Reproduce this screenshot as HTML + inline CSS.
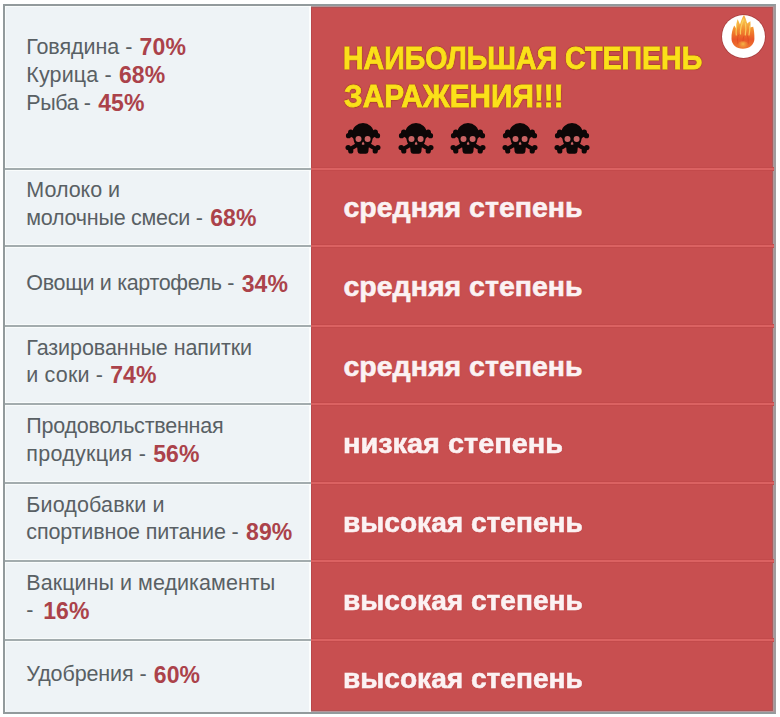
<!DOCTYPE html>
<html><head><meta charset="utf-8">
<style>
*{margin:0;padding:0;box-sizing:border-box}
html,body{width:780px;height:717px;background:#fff;overflow:hidden}
body{position:relative;font-family:"Liberation Sans",sans-serif}
.frame{position:absolute;left:3px;top:4px;width:773px;height:710px;border:2px solid #929a9c;border-right-color:#a09a9c;background:#eef3f6}
.lcol{position:absolute;left:5px;top:6px;width:304px;height:706px;border-left:1.5px solid #f9fcfc;border-top:1px solid #f9fcfc}
.red{position:absolute;left:311px;top:6px;width:463px;height:706px;background:#c84f50}
.gap{position:absolute;left:309px;top:6px;width:2px;height:706px;background:#fbfdfd}
.redl{position:absolute;left:311px;top:6px;width:1px;height:706px;background:#b9474a}
.redt{position:absolute;left:311px;top:6px;width:463px;height:1px;background:#b89598}
.redt2{position:absolute;left:311px;top:7px;width:462px;height:1px;background:#ad5355}
.redb{position:absolute;left:311px;top:711px;width:463px;height:1px;background:#b89598}
.redb2{position:absolute;left:311px;top:710px;width:462px;height:1px;background:#ad5355}
.redr{position:absolute;left:773px;top:6px;width:1px;height:706px;background:#b89598}
.redr2{position:absolute;left:772px;top:7px;width:1px;height:704px;background:#a85c5e}
.sep{position:absolute;left:5px;width:306px;height:2px;background:#a3acae;box-shadow:0 -1px 0 #f9fcfc,0 1px 0 #f9fcfc}
.rsep{position:absolute;left:311px;width:463px;height:2px;background:#db6262;box-shadow:0 -1px 0 #c34a4b,0 1px 0 #c34a4b}
.l{position:absolute;left:26.3px;font-size:21.5px;line-height:28px;height:28px;color:#596064;white-space:nowrap}
.p{position:absolute;letter-spacing:0.1px;font-size:23px;line-height:28px;height:28px;font-weight:bold;color:#ab424a;white-space:nowrap}
.r{position:absolute;left:343.5px;-webkit-text-stroke:0.6px #fcf2f3;text-shadow:0 0 1.2px rgba(150,45,45,.55);font-size:28.5px;line-height:40px;height:40px;font-weight:bold;color:#fcf2f3;white-space:nowrap;transform-origin:0 0}
.h{position:absolute;left:344px;-webkit-text-stroke:0.8px #fbe01a;text-shadow:0.8px 0 1px rgba(150,55,25,.8),-0.8px 0 1px rgba(150,55,25,.8),0 0.8px 1px rgba(150,55,25,.8),0 -0.8px 1px rgba(150,55,25,.8);font-size:31px;line-height:40px;height:40px;font-weight:bold;color:#fbe01a;white-space:nowrap;transform-origin:0 0}
.logo{position:absolute;left:722px;top:15px;width:43px;height:43px;border-radius:50%;background:#fff;box-shadow:0 0 0 0.8px rgba(130,40,40,.45)}
svg{position:absolute;overflow:visible}
</style></head><body>
<div class="frame"></div>
<div class="lcol"></div>
<div class="gap"></div>
<div class="red"></div>
<div class="redl"></div>
<div class="redt"></div>
<div class="redt2"></div>
<div class="redb"></div>
<div class="redb2"></div>
<div class="redr"></div>
<div class="redr2"></div>

<div class="sep" style="top:168px"></div><div class="rsep" style="top:168px"></div>
<div class="sep" style="top:245px"></div><div class="rsep" style="top:245px"></div>
<div class="sep" style="top:325px"></div><div class="rsep" style="top:325px"></div>
<div class="sep" style="top:403px"></div><div class="rsep" style="top:403px"></div>
<div class="sep" style="top:482px"></div><div class="rsep" style="top:482px"></div>
<div class="sep" style="top:560px"></div><div class="rsep" style="top:560px"></div>
<div class="sep" style="top:639px"></div><div class="rsep" style="top:639px"></div>
<div class="l" style="top:32.75px;letter-spacing:-0.049px">Говядина -</div>
<div class="p" style="top:33.23px;left:139.60px">70%</div>
<div class="l" style="top:60.75px;letter-spacing:0.136px">Курица -</div>
<div class="p" style="top:61.23px;left:118.90px">68%</div>
<div class="l" style="top:88.85px;letter-spacing:-0.409px">Рыба -</div>
<div class="p" style="top:89.33px;left:98.20px">45%</div>
<div class="l" style="top:176.35px;letter-spacing:-0.023px">Молоко и</div>
<div class="l" style="top:203.95px;letter-spacing:-0.248px">молочные смеси -</div>
<div class="p" style="top:204.43px;left:210.20px">68%</div>
<div class="l" style="top:269.15px;letter-spacing:-0.336px">Овощи и картофель -</div>
<div class="p" style="top:269.63px;left:241.70px">34%</div>
<div class="l" style="top:333.55px;letter-spacing:-0.065px">Газированные напитки</div>
<div class="l" style="top:360.95px;letter-spacing:0.168px">и соки -</div>
<div class="p" style="top:361.43px;left:110.20px">74%</div>
<div class="l" style="top:412.35px;letter-spacing:-0.222px">Продовольственная</div>
<div class="l" style="top:439.55px;letter-spacing:0.277px">продукция -</div>
<div class="p" style="top:440.03px;left:153.20px">56%</div>
<div class="l" style="top:490.55px;letter-spacing:0.137px">Биодобавки и</div>
<div class="l" style="top:517.55px;letter-spacing:-0.137px">спортивное питание -</div>
<div class="p" style="top:518.03px;left:246.00px">89%</div>
<div class="l" style="top:569.15px;letter-spacing:0.049px">Вакцины и медикаменты</div>
<div class="l" style="top:596.05px;letter-spacing:0.000px">-</div>
<div class="p" style="top:596.53px;left:43.20px">16%</div>
<div class="l" style="top:660.05px;letter-spacing:-0.111px">Удобрения -</div>
<div class="p" style="top:660.53px;left:153.80px">60%</div>
<div class="r" style="left:343.5px;top:187.02px;transform:scaleX(1.0)">средняя степень</div>
<div class="r" style="left:343.5px;top:265.92px;transform:scaleX(1.0)">средняя степень</div>
<div class="r" style="left:343.5px;top:345.52px;transform:scaleX(1.0)">средняя степень</div>
<div class="r" style="left:342.8px;top:423.32px;transform:scaleX(1.014)">низкая степень</div>
<div class="r" style="left:342.8px;top:501.72px;transform:scaleX(0.986)">высокая степень</div>
<div class="r" style="left:342.8px;top:579.72px;transform:scaleX(0.986)">высокая степень</div>
<div class="r" style="left:342.8px;top:657.62px;transform:scaleX(0.986)">высокая степень</div>
<div class="h" style="left:343.2px;top:39.06px;transform:scaleX(0.921)">НАИБОЛЬШАЯ СТЕПЕНЬ</div>
<div class="h" style="left:344px;top:77.26px;transform:scaleX(0.96)">ЗАРАЖЕНИЯ!!!</div>
<svg style="left:345px;top:122.7px" width="36" height="31" viewBox="0 0 36 31">
 <g stroke="#0d0707" stroke-width="4" stroke-linecap="round" fill="none">
  <line x1="4.8" y1="10.8" x2="31.2" y2="26.2"/>
  <line x1="31.2" y1="10.8" x2="4.8" y2="26.2"/>
 </g>
 <g fill="#0d0707">
  <circle cx="5.8" cy="9.2" r="2.7"/><circle cx="3.5" cy="12.7" r="2.6"/>
  <circle cx="30.2" cy="9.2" r="2.7"/><circle cx="32.5" cy="12.7" r="2.6"/>
  <circle cx="3.2" cy="24.6" r="2.7"/><circle cx="5.8" cy="28" r="2.6"/>
  <circle cx="32.8" cy="24.6" r="2.7"/><circle cx="30.2" cy="28" r="2.6"/>
  <ellipse cx="18" cy="10.4" rx="10.7" ry="10.4"/>
  <path d="M8.2 11 Q8 18.5 10.5 21.5 Q12 23 12.3 25 L12.6 28.6 Q13 30.8 15.2 30.8 L20.8 30.8 Q23 30.8 23.4 28.6 L23.7 25 Q24 23 25.5 21.5 Q28 18.5 27.8 11 Z"/>
 </g>
 <g fill="#c96464">
  <circle cx="13.5" cy="16" r="3"/>
  <circle cx="22.6" cy="16" r="3"/>
  <path d="M18.1 18.4 Q19.8 20.5 19.4 21.4 Q18.1 22 16.8 21.4 Q16.4 20.5 18.1 18.4 Z"/>
 </g>
</svg>
<svg style="left:397.5px;top:122.7px" width="36" height="31" viewBox="0 0 36 31">
 <g stroke="#0d0707" stroke-width="4" stroke-linecap="round" fill="none">
  <line x1="4.8" y1="10.8" x2="31.2" y2="26.2"/>
  <line x1="31.2" y1="10.8" x2="4.8" y2="26.2"/>
 </g>
 <g fill="#0d0707">
  <circle cx="5.8" cy="9.2" r="2.7"/><circle cx="3.5" cy="12.7" r="2.6"/>
  <circle cx="30.2" cy="9.2" r="2.7"/><circle cx="32.5" cy="12.7" r="2.6"/>
  <circle cx="3.2" cy="24.6" r="2.7"/><circle cx="5.8" cy="28" r="2.6"/>
  <circle cx="32.8" cy="24.6" r="2.7"/><circle cx="30.2" cy="28" r="2.6"/>
  <ellipse cx="18" cy="10.4" rx="10.7" ry="10.4"/>
  <path d="M8.2 11 Q8 18.5 10.5 21.5 Q12 23 12.3 25 L12.6 28.6 Q13 30.8 15.2 30.8 L20.8 30.8 Q23 30.8 23.4 28.6 L23.7 25 Q24 23 25.5 21.5 Q28 18.5 27.8 11 Z"/>
 </g>
 <g fill="#c96464">
  <circle cx="13.5" cy="16" r="3"/>
  <circle cx="22.6" cy="16" r="3"/>
  <path d="M18.1 18.4 Q19.8 20.5 19.4 21.4 Q18.1 22 16.8 21.4 Q16.4 20.5 18.1 18.4 Z"/>
 </g>
</svg>
<svg style="left:450px;top:122.7px" width="36" height="31" viewBox="0 0 36 31">
 <g stroke="#0d0707" stroke-width="4" stroke-linecap="round" fill="none">
  <line x1="4.8" y1="10.8" x2="31.2" y2="26.2"/>
  <line x1="31.2" y1="10.8" x2="4.8" y2="26.2"/>
 </g>
 <g fill="#0d0707">
  <circle cx="5.8" cy="9.2" r="2.7"/><circle cx="3.5" cy="12.7" r="2.6"/>
  <circle cx="30.2" cy="9.2" r="2.7"/><circle cx="32.5" cy="12.7" r="2.6"/>
  <circle cx="3.2" cy="24.6" r="2.7"/><circle cx="5.8" cy="28" r="2.6"/>
  <circle cx="32.8" cy="24.6" r="2.7"/><circle cx="30.2" cy="28" r="2.6"/>
  <ellipse cx="18" cy="10.4" rx="10.7" ry="10.4"/>
  <path d="M8.2 11 Q8 18.5 10.5 21.5 Q12 23 12.3 25 L12.6 28.6 Q13 30.8 15.2 30.8 L20.8 30.8 Q23 30.8 23.4 28.6 L23.7 25 Q24 23 25.5 21.5 Q28 18.5 27.8 11 Z"/>
 </g>
 <g fill="#c96464">
  <circle cx="13.5" cy="16" r="3"/>
  <circle cx="22.6" cy="16" r="3"/>
  <path d="M18.1 18.4 Q19.8 20.5 19.4 21.4 Q18.1 22 16.8 21.4 Q16.4 20.5 18.1 18.4 Z"/>
 </g>
</svg>
<svg style="left:502.2px;top:122.7px" width="36" height="31" viewBox="0 0 36 31">
 <g stroke="#0d0707" stroke-width="4" stroke-linecap="round" fill="none">
  <line x1="4.8" y1="10.8" x2="31.2" y2="26.2"/>
  <line x1="31.2" y1="10.8" x2="4.8" y2="26.2"/>
 </g>
 <g fill="#0d0707">
  <circle cx="5.8" cy="9.2" r="2.7"/><circle cx="3.5" cy="12.7" r="2.6"/>
  <circle cx="30.2" cy="9.2" r="2.7"/><circle cx="32.5" cy="12.7" r="2.6"/>
  <circle cx="3.2" cy="24.6" r="2.7"/><circle cx="5.8" cy="28" r="2.6"/>
  <circle cx="32.8" cy="24.6" r="2.7"/><circle cx="30.2" cy="28" r="2.6"/>
  <ellipse cx="18" cy="10.4" rx="10.7" ry="10.4"/>
  <path d="M8.2 11 Q8 18.5 10.5 21.5 Q12 23 12.3 25 L12.6 28.6 Q13 30.8 15.2 30.8 L20.8 30.8 Q23 30.8 23.4 28.6 L23.7 25 Q24 23 25.5 21.5 Q28 18.5 27.8 11 Z"/>
 </g>
 <g fill="#c96464">
  <circle cx="13.5" cy="16" r="3"/>
  <circle cx="22.6" cy="16" r="3"/>
  <path d="M18.1 18.4 Q19.8 20.5 19.4 21.4 Q18.1 22 16.8 21.4 Q16.4 20.5 18.1 18.4 Z"/>
 </g>
</svg>
<svg style="left:554.4px;top:122.7px" width="36" height="31" viewBox="0 0 36 31">
 <g stroke="#0d0707" stroke-width="4" stroke-linecap="round" fill="none">
  <line x1="4.8" y1="10.8" x2="31.2" y2="26.2"/>
  <line x1="31.2" y1="10.8" x2="4.8" y2="26.2"/>
 </g>
 <g fill="#0d0707">
  <circle cx="5.8" cy="9.2" r="2.7"/><circle cx="3.5" cy="12.7" r="2.6"/>
  <circle cx="30.2" cy="9.2" r="2.7"/><circle cx="32.5" cy="12.7" r="2.6"/>
  <circle cx="3.2" cy="24.6" r="2.7"/><circle cx="5.8" cy="28" r="2.6"/>
  <circle cx="32.8" cy="24.6" r="2.7"/><circle cx="30.2" cy="28" r="2.6"/>
  <ellipse cx="18" cy="10.4" rx="10.7" ry="10.4"/>
  <path d="M8.2 11 Q8 18.5 10.5 21.5 Q12 23 12.3 25 L12.6 28.6 Q13 30.8 15.2 30.8 L20.8 30.8 Q23 30.8 23.4 28.6 L23.7 25 Q24 23 25.5 21.5 Q28 18.5 27.8 11 Z"/>
 </g>
 <g fill="#c96464">
  <circle cx="13.5" cy="16" r="3"/>
  <circle cx="22.6" cy="16" r="3"/>
  <path d="M18.1 18.4 Q19.8 20.5 19.4 21.4 Q18.1 22 16.8 21.4 Q16.4 20.5 18.1 18.4 Z"/>
 </g>
</svg>
<div class="logo"></div>
<svg style="left:722px;top:10px" width="44" height="44" viewBox="722 10 44 44">
<defs>
<linearGradient id="fg" x1="0" y1="14" x2="0" y2="49" gradientUnits="userSpaceOnUse">
<stop offset="0" stop-color="#f2a03c"/><stop offset="0.2" stop-color="#f7c04a"/><stop offset="0.45" stop-color="#f28a2e"/><stop offset="0.72" stop-color="#e9562a"/><stop offset="1" stop-color="#ee7a30"/></linearGradient>
<radialGradient id="fb" cx="743" cy="44" r="8" gradientUnits="userSpaceOnUse">
<stop offset="0" stop-color="#f7c24a" stop-opacity="0.9"/><stop offset="1" stop-color="#ec5a26" stop-opacity="0"/></radialGradient>
<filter id="fz" x="-20%" y="-20%" width="140%" height="140%"><feGaussianBlur stdDeviation="0.45"/></filter>
</defs>
<g filter="url(#fz)">
<path d="M731.5 39 C731.3 33.5 732.5 29 734.2 25.5 C735.3 27 735.8 28 736.4 28.8 C736.2 25 736.6 21.5 737.6 19.2 C738.8 21.5 739.5 23 740 24.5 C740.8 21 742.3 17.5 744 14.7 C745.3 17.5 746.5 20.5 747.2 23.5 C748.2 22.5 749.3 21.7 750.4 21.2 C750.6 23.5 750.6 25.5 750.3 27.5 C751.4 27 752.3 26.8 753.2 26.8 C754 30 754.5 34 754.4 39 C754.3 44.5 749.5 48.8 742.9 48.8 C736.3 48.8 731.7 44.5 731.5 39 Z" fill="url(#fg)"/>
<g stroke="#fcd562" stroke-width="1.2" fill="none" opacity="0.85" stroke-linecap="round">
<path d="M740.5 34 C740 29 741.5 24 743.6 19"/><path d="M745.3 35 C746 31 746 27 745.5 23.5"/><path d="M749 35 C749.8 31.5 750 29 749.8 26"/><path d="M736.3 35 C735.8 32 736.2 29 736.8 24"/>
</g>
<g stroke="#d9401e" stroke-width="1" fill="none" opacity="0.5" stroke-linecap="round">
<path d="M738 44 C737 40 737.5 37 738.5 35"/><path d="M743 46 C742.5 42 743 39 744 36"/><path d="M748 44 C748.5 41 748.3 38 747.5 36"/>
</g>
<ellipse cx="743" cy="44.5" rx="5.5" ry="3.2" fill="url(#fb)"/>
</g>
</svg>
</body></html>
